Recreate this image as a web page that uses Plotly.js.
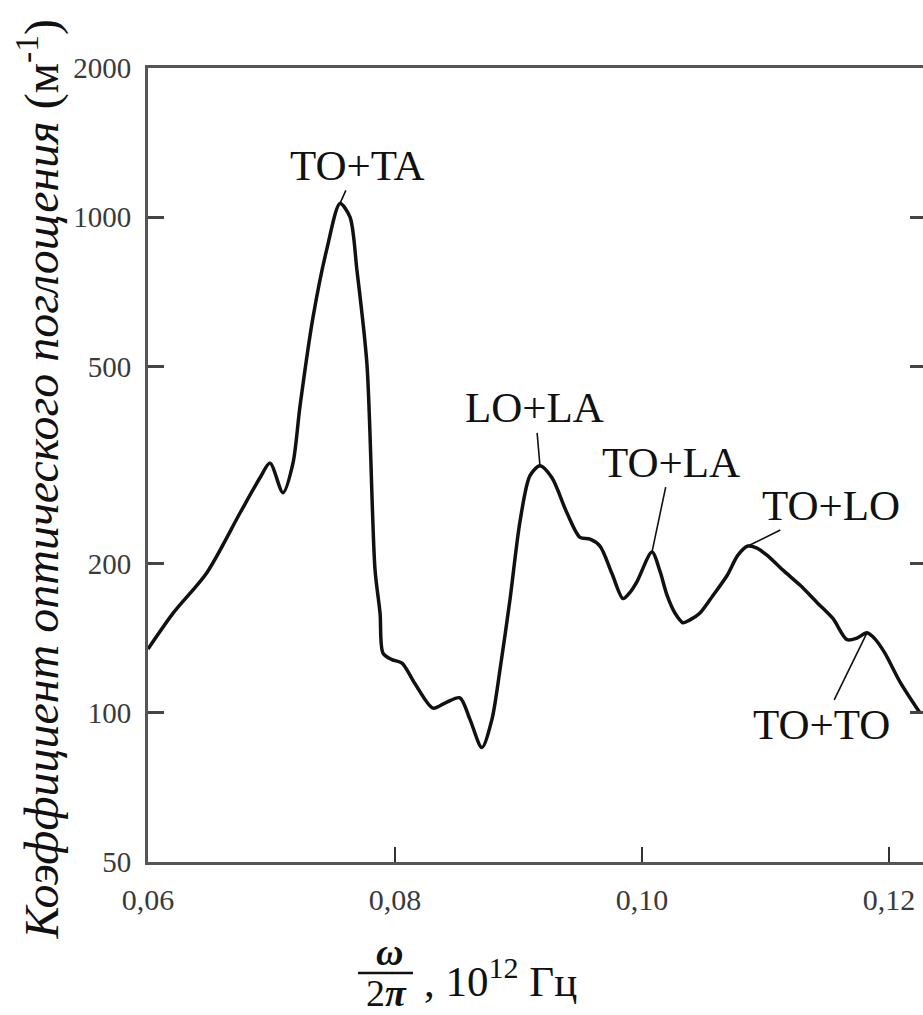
<!DOCTYPE html>
<html>
<head>
<meta charset="utf-8">
<script src="https://cdn.plot.ly/plotly-3.0.1.min.js"></script>
<style>
html, body { margin: 0; padding: 0; overflow: hidden; background: #fff; }
#chart { width: 930px; height: 1015px; }
</style>
</head>
<body>
<div id="chart"></div>
<script>
// Frequency ω/2π, 10^12 Hz
var freq = [0.06000, 0.06202, 0.06478, 0.06745, 0.06907, 0.06988, 0.07093, 0.07174, 0.07231, 0.07336,
            0.07449, 0.07555, 0.07636, 0.07692, 0.07773, 0.07838, 0.07879, 0.07903, 0.07976, 0.08057,
            0.08162, 0.08308, 0.08413, 0.08526, 0.08607, 0.08704, 0.08785, 0.08850, 0.08931, 0.09012,
            0.09093, 0.09174, 0.09271, 0.09393, 0.09498, 0.09579, 0.09660, 0.09757, 0.09846, 0.09903,
            0.09960, 0.10081, 0.10146, 0.10202, 0.10267, 0.10332, 0.10389, 0.10470, 0.10575, 0.10688,
            0.10777, 0.10858, 0.10931, 0.11012, 0.11142, 0.11279, 0.11417, 0.11546, 0.11660, 0.11741,
            0.11822, 0.11886, 0.11967, 0.12089, 0.12251];
// Absorption coefficient, m^-1
var absorption = [134.5, 158.7, 192, 253, 298, 319, 278, 319, 416, 628,
                  864, 1066, 1000, 781, 505, 195, 159, 132, 128, 126,
                  114.5, 102.2, 104.9, 107.2, 97, 85.1, 97, 122, 169, 243,
                  301, 315, 298, 253, 226, 224, 217, 191, 170, 175,
                  184, 211, 193, 173, 159, 152, 154, 159, 172.5, 189,
                  208, 217, 215, 208, 194, 181, 167, 155, 140.5, 141.5,
                  145, 141, 132, 115.5, 100];

var xTickVals = [0.06, 0.08, 0.10, 0.12];
var xTickText = ["0,06", "0,08", "0,10", "0,12"];
var yTickVals = [50, 100, 200, 500, 1000, 2000];
var yTickText = ["50", "100", "200", "500", "1000", "2000"];

// Peak labels: text and index of the labelled point in the arrays above
var peakLabels = ["TO+TA", "LO+LA", "TO+LA", "TO+LO", "TO+TO"];
var peakIndex  = [11, 31, 41, 51, 60];

var serif = "Liberation Serif, Times New Roman, serif";
var labelOffsets = [[17, -38], [-5, -58], [19, -90], [83, -41], [-45, 92]];

var annotations = peakLabels.map(function (t, k) {
  var i = peakIndex[k];
  return {
    x: freq[i], y: Math.log10(absorption[i]), xref: 'x', yref: 'y',
    text: t, showarrow: true, arrowhead: 0, arrowwidth: 1.6, arrowcolor: '#111',
    ax: labelOffsets[k][0], ay: labelOffsets[k][1],
    font: {family: serif, size: 43, color: '#111'}
  };
});

// Y-axis title (rotated)
annotations.push({
  xref: 'paper', yref: 'paper', x: -0.141, y: 0.482,
  xanchor: 'center', yanchor: 'middle', textangle: -90, showarrow: false,
  text: '<i>Коэффициент оптического поглощения</i> (м<sup>-1</sup>)',
  font: {family: serif, size: 48, color: '#111'}
});
// X-axis title: fraction ω / 2π
annotations.push({
  xref: 'paper', yref: 'paper', x: (389 - 148) / 778, y: (862 - 952) / 794,
  xanchor: 'center', yanchor: 'middle', showarrow: false,
  text: '<b><i>ω</i></b>', font: {family: serif, size: 38, color: '#111'}
});
annotations.push({
  xref: 'paper', yref: 'paper', x: (386 - 148) / 778, y: (862 - 993) / 794,
  xanchor: 'center', yanchor: 'middle', showarrow: false,
  text: '2<b><i>π</i></b>', font: {family: serif, size: 38, color: '#111'}
});
annotations.push({
  xref: 'paper', yref: 'paper', x: (422 - 148) / 778, y: (862 - 978) / 794,
  xanchor: 'left', yanchor: 'middle', showarrow: false,
  text: ', 10<sup>12</sup> Гц', font: {family: serif, size: 43, color: '#111'}
});

var trace = {
  x: freq, y: absorption, type: 'scatter', mode: 'lines',
  line: {color: '#111', width: 3.5, shape: 'spline', smoothing: 0.8},
  hoverinfo: 'skip'
};

var layout = {
  width: 930, height: 1015,
  margin: {l: 148, r: 4, t: 68, b: 153},
  paper_bgcolor: '#fff', plot_bgcolor: '#fff',
  showlegend: false,
  font: {family: serif, color: '#333'},
  xaxis: {
    range: [0.06, 0.123], tickvals: xTickVals, ticktext: xTickText,
    ticks: 'inside', ticklen: 15, tickwidth: 2, tickcolor: '#333',
    showline: true, linewidth: 3, linecolor: '#555', mirror: true,
    showgrid: false, zeroline: false, ticklabelstandoff: 9,
    tickfont: {family: serif, size: 30, color: '#3a3a3a'}
  },
  yaxis: {
    type: 'log', range: [Math.log10(50), Math.log10(2000)],
    tickvals: yTickVals, ticktext: yTickText,
    ticks: 'inside', ticklen: 16, tickwidth: 3, tickcolor: '#444',
    showline: true, linewidth: 3, linecolor: '#555', mirror: 'ticks',
    showgrid: false, zeroline: false, ticklabelstandoff: 8,
    tickfont: {family: serif, size: 29, color: '#3a3a3a'}
  },
  shapes: [{
    type: 'line', xref: 'paper', yref: 'paper',
    x0: (358 - 148) / 778, x1: (413 - 148) / 778,
    y0: (862 - 973) / 794, y1: (862 - 973) / 794,
    line: {color: '#111', width: 2.5}
  }],
  annotations: annotations
};

Plotly.newPlot('chart', [trace], layout, {staticPlot: true, displayModeBar: false});
</script>
</body>
</html>
